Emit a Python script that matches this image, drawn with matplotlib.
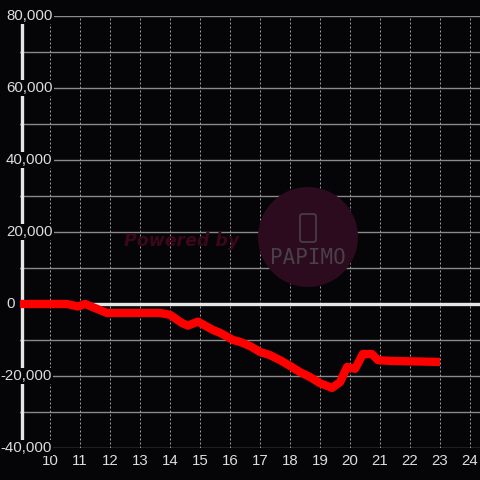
import numpy as np
import matplotlib.pyplot as plt
from matplotlib.patches import Circle, FancyBboxPatch

# hours (x) and balance (y)
hours = [8.9, 10.57, 10.93, 11.17, 11.9, 13.67, 14.0, 14.4, 14.6, 14.93,
         15.43, 15.67, 16.1, 16.33, 16.67, 17.0, 17.33, 17.67, 18.0, 18.33,
         18.67, 19.0, 19.4, 19.67, 19.9, 20.17, 20.43, 20.73, 20.93, 21.33, 23.0]
balance = [0, 0, -700, 0, -2500, -2500, -3000, -5300, -6000, -4900,
           -7200, -8000, -10000, -10500, -11700, -13300, -14200, -15600, -17200, -18900,
           -20300, -22000, -23300, -21700, -17500, -18000, -13900, -13900, -15600, -15800, -16100]

x_ticks = list(range(10, 25))
y_ticks = [-40000, -20000, 0, 20000, 40000, 60000, 80000]
y_grid = list(range(-40000, 80001, 10000))

BG = '#050407'
TXT = '#dddddd'
plt.rcParams['font.family'] = ['Liberation Sans', 'DejaVu Sans']

fig = plt.figure(figsize=(4.8, 4.8), dpi=100, facecolor=BG)
ax = fig.add_axes([20 / 480, 32 / 480, 460 / 480, 432 / 480])
ax.set_facecolor(BG)
ax.set_xlim(9, 9 + 460 / 30)
ax.set_ylim(-40000, 80000)
for s in ax.spines.values():
    s.set_visible(False)
ax.set_xticks([])
ax.set_yticks([])

for y in y_grid:
    ax.axhline(y, color='#8a8a8a', lw=1, zorder=1)
for x in x_ticks:
    ax.axvline(x, color='#9a9a9a', lw=0.72, ls=(0, (2, 2)), zorder=1)

ax.axhline(0, color='#e6e6e6', lw=2.4, zorder=2)
ax.axvline(9.05, ymin=0, ymax=(448 - 24) / 432, color='#e6e6e6', lw=2.4, zorder=2)

# watermark
ax.add_patch(Circle((308, 243), 50, transform=None, facecolor='#2c0b1e',
                    edgecolor='none', zorder=1.5))
fig.text(124 / 480, 1 - 241 / 480, 'Powered by', color='#3a0818', fontsize=12.5,
         fontweight='bold', style='italic', family='DejaVu Sans', va='center', zorder=3)
fig.text(308 / 480, 1 - 258 / 480, 'PAPIMO', color='#4a4048', fontsize=15,
         family='DejaVu Sans Mono', ha='center', va='center', zorder=3)
fig.patches.append(FancyBboxPatch((300 / 480, 1 - 242 / 480), 16 / 480, 28 / 480,
                                  boxstyle='round,pad=0,rounding_size=0.005',
                                  transform=fig.transFigure, facecolor='none',
                                  edgecolor='#4a4048', lw=1.2, figure=fig))

ax.plot(hours, balance, color='#ff0000', lw=6, solid_joinstyle='round',
        solid_capstyle='butt', zorder=4)

for y in y_ticks:
    if y < 0:
        fig.text(52 / 480, ax.transData.transform((9, y))[1] / 480, f'{y:,}',
                 ha='right', va='center', color=TXT, fontsize=10.8,
                 bbox=dict(facecolor=BG, edgecolor='none', pad=1), zorder=5)
    else:
        fig.text(6 / 480, ax.transData.transform((9, y))[1] / 480, f'{y:,}',
                 ha='left', va='center', color=TXT, fontsize=10.8,
                 bbox=dict(facecolor=BG, edgecolor='none', pad=1), zorder=5)
for x in x_ticks:
    ax.text(x, -41800, str(x), ha='center', va='top', color=TXT, fontsize=10.8, zorder=5)

fig.savefig('out.png', dpi=100, facecolor=BG)
